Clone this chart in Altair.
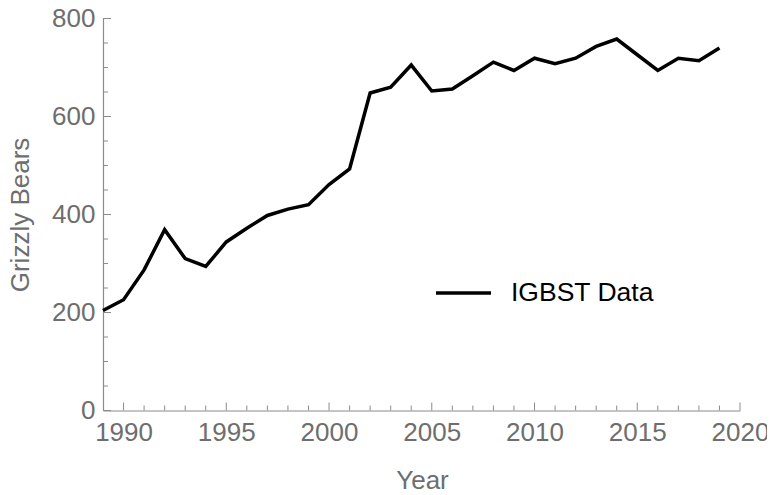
import altair as alt
import pandas as pd

years = list(range(1989, 2020))
bears = [204, 226, 287, 369, 310, 294, 344, 372, 398, 411, 420, 461, 493, 648, 660,
         705, 652, 656, 683, 711, 694, 719, 708, 719, 743, 758, 726, 694, 719, 714, 740]
series_name = "IGBST Data"

x_major = [1990, 1995, 2000, 2005, 2010, 2015, 2020]
x_minor = [y for y in range(1990, 2020) if y % 5 != 0]
y_major = [0, 200, 400, 600, 800]
y_minor = [50, 100, 150, 250, 300, 350, 450, 500, 550, 650, 700, 750]

W, H = 637, 392
FONT = "Liberation Sans"
GRAY = "#6e6e6e"
AXIS_GRAY = "#8c8c8c"

df = pd.DataFrame({"Year": years, "Bears": bears})

xscale = alt.Scale(domain=[1989, 2020], nice=False, zero=False)
yscale = alt.Scale(domain=[0, 800], nice=False)

line = alt.Chart(df).mark_line(strokeWidth=3.5, strokeJoin="miter").encode(
    x=alt.X("Year:Q", scale=xscale,
            axis=alt.Axis(values=x_major, format="d", tickSize=0, grid=False,
                          domainColor=AXIS_GRAY, domainWidth=1.2,
                          labelFont=FONT, labelFontSize=26, labelColor=GRAY,
                          labelPadding=9, labelFlush=False,
                          title="Year", titleFont=FONT, titleFontSize=26,
                          titleFontWeight="normal", titleColor=GRAY,
                          titleX=319, titleY=77.6, titleBaseline="alphabetic")),
    y=alt.Y("Bears:Q", scale=yscale,
            axis=alt.Axis(values=y_major, tickSize=0, grid=False,
                          domainColor=AXIS_GRAY, domainWidth=1.2,
                          labelFont=FONT, labelFontSize=26, labelColor=GRAY,
                          labelPadding=8,
                          title="Grizzly Bears", titleFont=FONT, titleFontSize=26,
                          titleFontWeight="normal", titleColor=GRAY,
                          titleX=-75, titleY=196, titleBaseline="alphabetic")),
    color=alt.Color("name:N", scale=alt.Scale(range=["black"]),
                    legend=alt.Legend(title=None, orient="none", legendX=331, legendY=245,
                                      symbolType="stroke", symbolSize=3025,
                                      symbolStrokeWidth=3.3, symbolStrokeColor="black",
                                      labelFont=FONT, labelFontSize=26.5, labelColor="black",
                                      labelOffset=18, padding=0)),
).transform_calculate(name=f"'{series_name}'")

def xticks(vals, length):
    return alt.Chart(pd.DataFrame({"Year": vals})).mark_rule(color=AXIS_GRAY, strokeWidth=1).encode(
        x=alt.X("Year:Q", scale=xscale),
        y=alt.value(H), y2=alt.value(H - length))

def yticks(vals, length):
    return alt.Chart(pd.DataFrame({"Bears": vals})).mark_rule(color=AXIS_GRAY, strokeWidth=1).encode(
        y=alt.Y("Bears:Q", scale=yscale),
        x=alt.value(0), x2=alt.value(length))

chart = alt.layer(
    xticks(x_major, 8), xticks(x_minor, 5),
    yticks(y_major, 8), yticks(y_minor, 5),
    line,
).properties(
    width=W, height=H,
    autosize=alt.AutoSizeParams(type="none"),
    padding={"left": 95, "top": 10.5, "right": 27, "bottom": 84},
).configure_view(stroke=None)

chart.save("out.html", embed_options={"renderer": "svg", "actions": False})
